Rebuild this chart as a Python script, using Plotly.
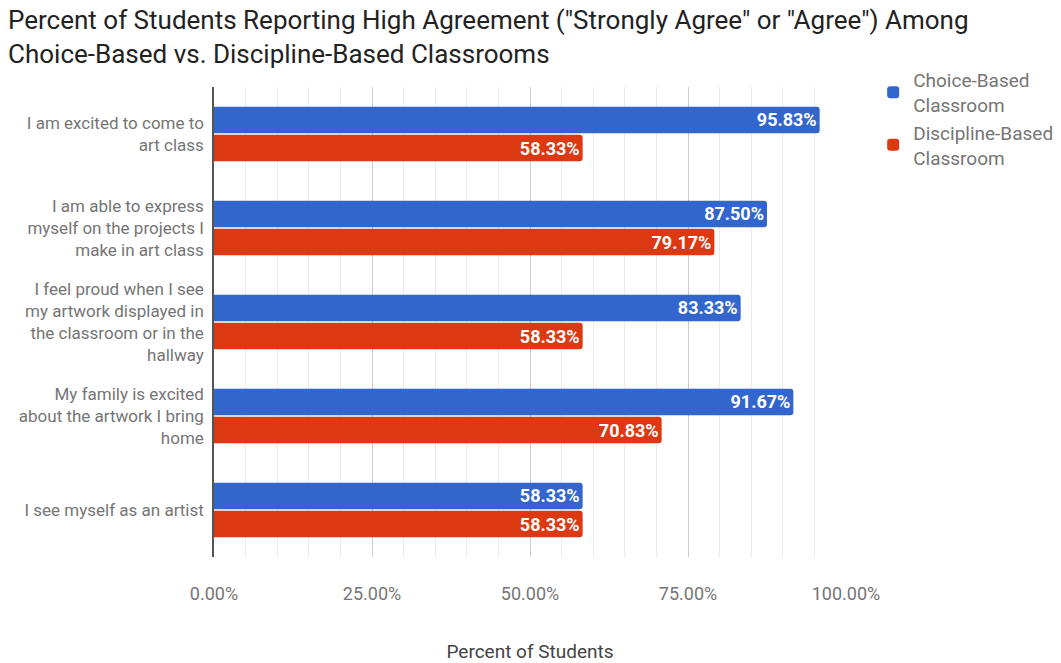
import plotly.graph_objects as go

# Survey statements (y categories)
statements = [
    "I am excited to come to<br>art class",
    "I am able to express<br>myself on the projects I<br>make in art class",
    "I feel proud when I see<br>my artwork displayed in<br>the classroom or in the<br>hallway",
    "My family is excited<br>about the artwork I bring<br>home",
    "I see myself as an artist",
]

# Percent of students reporting high agreement
choice_based = [95.83, 87.50, 83.33, 91.67, 58.33]
discipline_based = [58.33, 79.17, 58.33, 70.83, 58.33]

series_names = ["Choice-Based<br>Classroom", "Discipline-Based<br>Classroom"]
series_colors = ["#3366cc", "#dc3912"]

x_ticks = [0, 25, 50, 75, 100]

FONT = "Roboto, Arial, sans-serif"

fig = go.Figure()
for name, vals, color in zip(series_names, [choice_based, discipline_based], series_colors):
    fig.add_trace(go.Bar(
        y=statements,
        x=vals,
        name=name,
        orientation="h",
        marker=dict(color=color, line=dict(width=0)),
        text=[f"{v:.2f}%" for v in vals],
        textposition="inside",
        insidetextanchor="end",
        constraintext="none",
        textangle=0,
        textfont=dict(family=FONT, size=18, color="white", weight="bold"),
        cliponaxis=False,
    ))

fig.update_layout(
    width=1061,
    height=663,
    margin=dict(l=214, r=215, t=87, b=106, autoexpand=False),
    paper_bgcolor="white",
    plot_bgcolor="white",
    barmode="group",
    bargap=0.4,
    bargroupgap=0.06,
    barcornerradius=3,
    font=dict(family=FONT, color="#757575"),
    title=dict(
        text="Percent of Students Reporting High Agreement (\"Strongly Agree\" or \"Agree\") Among<br>Choice-Based vs. Discipline-Based Classrooms",
        x=8 / 1061,
        xanchor="left",
        xref="container",
        y=1 - 29 / 663,
        yanchor="top",
        yref="container",
        font=dict(family=FONT, size=26, color="#222222"),
    ),
    legend=dict(
        x=1.043,
        xanchor="left",
        y=1.055,
        yanchor="top",
        font=dict(family=FONT, size=19, color="#757575"),
        tracegroupgap=13,
        itemwidth=30,
        bgcolor="rgba(0,0,0,0)",
    ),
    xaxis=dict(
        range=[0, 100],
        tickvals=x_ticks,
        ticktext=[f"{t:.2f}%" for t in x_ticks],
        tickfont=dict(size=18, color="#757575"),
        showgrid=True,
        gridcolor="#cccccc",
        gridwidth=1,
        minor=dict(dtick=5, showgrid=True, gridcolor="#ebebeb", gridwidth=1),
        zeroline=False,
        showline=False,
        ticks="",
        ticklabelstandoff=24,
        title=dict(text="Percent of Students", font=dict(size=19, color="#444444"), standoff=44),
    ),
    yaxis=dict(
        autorange="reversed",
        showline=True,
        linecolor="#555555",
        linewidth=1.5,
        showgrid=False,
        ticks="outside",
        ticklen=5,
        tickcolor="rgba(0,0,0,0)",
        tickfont=dict(size=17, color="#757575"),
    ),
)

fig.write_html("out.html")
